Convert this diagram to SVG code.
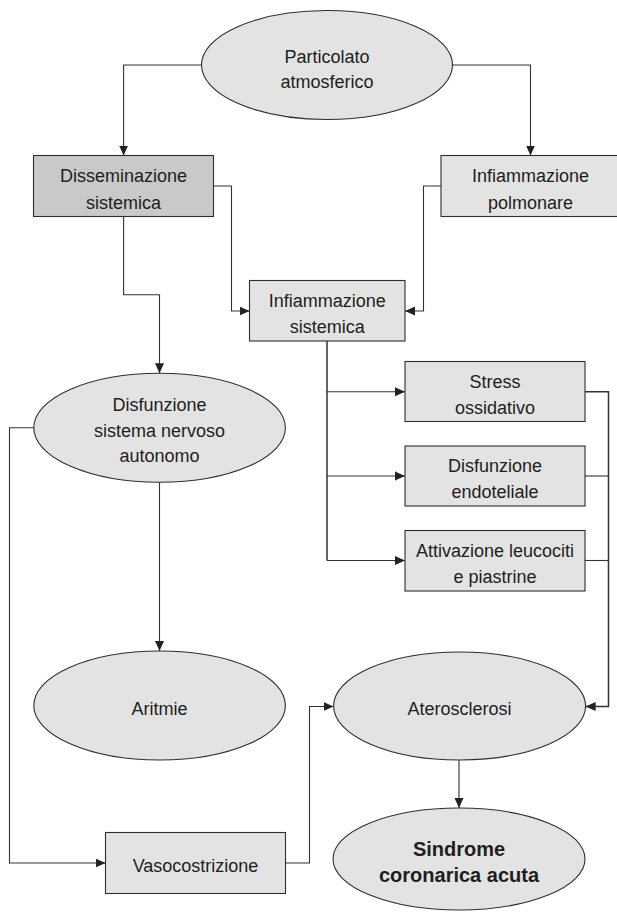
<svg xmlns="http://www.w3.org/2000/svg" width="617" height="912" viewBox="0 0 617 912">
<style>
  .bg { fill: #ffffff; }
  .node { fill: #e3e3e3; stroke: #2e2e2e; stroke-width: 1.1; }
  .dark { fill: #c9c9c9; }
  .lbl { font-family: "Liberation Sans", Arial, sans-serif; font-size: 18px; fill: #1e1e1e; text-anchor: middle; }
  .bold { font-weight: bold; font-size: 20px; }
  .edge { fill: none; stroke: #333; stroke-width: 1.1; marker-end: url(#arr); }
  .line { fill: none; stroke: #333; stroke-width: 1.1; }
</style>
<defs>
  <marker id="arr" markerUnits="userSpaceOnUse" markerWidth="11" markerHeight="10" refX="10" refY="5" orient="auto">
    <path d="M0,0.5 L10,5 L0,9.5 z" fill="#222"/>
  </marker>
</defs>
<rect class="bg" x="0" y="0" width="617" height="912"/>

<g id="connectors">
  <path class="edge" d="M201.5,65 H123.6 V155.5"/>
  <path class="edge" d="M452.5,65 H530.5 V155.5"/>
  <path class="edge" d="M213.5,186 H231.5 V311 H249.5"/>
  <path class="edge" d="M441,186 H423.5 V311 H405"/>
  <path class="edge" d="M123.6,216.5 V294.7 H159.5 V373.3"/>
  <path class="line" d="M327,341 V560.5" style="stroke-width:1.5"/>
  <path class="edge" d="M327,391.7 H405"/>
  <path class="edge" d="M327,476 H405"/>
  <path class="edge" d="M327,560.5 H405"/>
  <path class="edge" d="M585,391.7 H608.5 V706.5 H585.6" style="stroke-width:1.5"/>
  <path class="line" d="M585,476 H608.5"/>
  <path class="line" d="M585,560.5 H608.5"/>
  <path class="edge" d="M159.5,482.3 V651"/>
  <path class="edge" d="M33.8,427.8 H9.5 V863 H105.5"/>
  <path class="edge" d="M285.5,863 H309.5 V706.5 H333.6"/>
  <path class="edge" d="M459,760 V808"/>
</g>

<g id="particolato">
  <ellipse class="node" cx="327" cy="65" rx="125.5" ry="54.5"/>
  <text class="lbl" x="327" y="62.5">Particolato</text>
  <text class="lbl" x="327" y="88">atmosferico</text>
</g>
<g id="disseminazione">
  <rect class="node dark" x="33.5" y="155.5" width="180" height="61"/>
  <text class="lbl" x="123.6" y="182">Disseminazione</text>
  <text class="lbl" x="123.6" y="208.5">sistemica</text>
</g>
<g id="infiammazione-polmonare">
  <rect class="node" x="441" y="155.5" width="180" height="61"/>
  <text class="lbl" x="530.5" y="182">Infiammazione</text>
  <text class="lbl" x="530.5" y="208.5">polmonare</text>
</g>
<g id="infiammazione-sistemica">
  <rect class="node" x="249.5" y="280.5" width="155.5" height="60.5"/>
  <text class="lbl" x="327.2" y="306.5">Infiammazione</text>
  <text class="lbl" x="327.2" y="333">sistemica</text>
</g>
<g id="disfunzione-sna">
  <ellipse class="node" cx="159.6" cy="427.8" rx="125.8" ry="54.5"/>
  <text class="lbl" x="159.6" y="411">Disfunzione</text>
  <text class="lbl" x="159.6" y="436.5">sistema nervoso</text>
  <text class="lbl" x="159.6" y="462">autonomo</text>
</g>
<g id="stress">
  <rect class="node" x="405" y="361.5" width="180" height="60"/>
  <text class="lbl" x="495" y="387.5">Stress</text>
  <text class="lbl" x="495" y="413.5">ossidativo</text>
</g>
<g id="disfunzione-endoteliale">
  <rect class="node" x="405" y="446" width="180" height="60"/>
  <text class="lbl" x="495" y="472">Disfunzione</text>
  <text class="lbl" x="495" y="498">endoteliale</text>
</g>
<g id="attivazione">
  <rect class="node" x="405" y="530.5" width="180" height="60.5"/>
  <text class="lbl" x="495" y="556.5">Attivazione leucociti</text>
  <text class="lbl" x="495" y="582.5">e piastrine</text>
</g>
<g id="aritmie">
  <ellipse class="node" cx="159.6" cy="705.5" rx="125.8" ry="54.5"/>
  <text class="lbl" x="159.6" y="715">Aritmie</text>
</g>
<g id="aterosclerosi">
  <ellipse class="node" cx="459.6" cy="706" rx="126" ry="54"/>
  <text class="lbl" x="459.6" y="715">Aterosclerosi</text>
</g>
<g id="vasocostrizione">
  <rect class="node" x="105.5" y="832.5" width="180" height="61"/>
  <text class="lbl" x="195.5" y="872">Vasocostrizione</text>
</g>
<g id="sindrome">
  <ellipse class="node" cx="459" cy="859" rx="126" ry="51"/>
  <text class="lbl bold" x="459" y="855.5">Sindrome</text>
  <text class="lbl bold" x="459" y="881.5">coronarica acuta</text>
</g>
</svg>
